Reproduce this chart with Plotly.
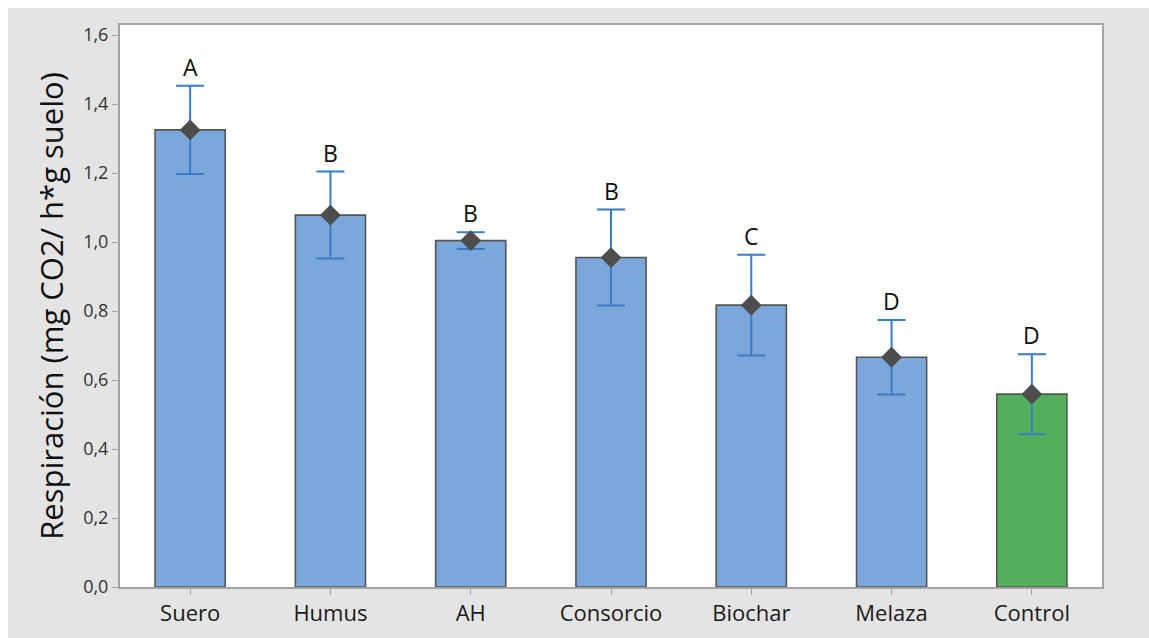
import plotly.graph_objects as go

# Soil respiration by treatment (mean ± error) with grouping letters
categories = ["Suero", "Humus", "AH", "Consorcio", "Biochar", "Melaza", "Control"]
means = [1.325, 1.078, 1.004, 0.955, 0.817, 0.666, 0.559]
errors = [0.128, 0.126, 0.024, 0.139, 0.146, 0.108, 0.116]
letters = ["A", "B", "B", "B", "C", "D", "D"]
bar_colors = ["#7ba7da"] * 6 + ["#52b05a"]
y_ticks = [0.0, 0.2, 0.4, 0.6, 0.8, 1.0, 1.2, 1.4, 1.6]
y_tick_text = [f"{v:.1f}".replace(".", ",") for v in y_ticks]

W, H = 1149, 638
L, R, T, B = 120, 47, 25, 51
pw, ph = W - L - R, H - T - B

fig = go.Figure()

fig.add_trace(go.Bar(
    x=categories, y=means, width=0.5,
    marker=dict(color=bar_colors, line=dict(color="#555555", width=1.6)),
    error_y=dict(type="data", array=errors, visible=True,
                 color="#3a7cc6", thickness=2, width=14),
    hoverinfo="skip", showlegend=False,
))

fig.add_trace(go.Scatter(
    x=categories, y=means, mode="markers",
    marker=dict(symbol="diamond", size=16, color="#4d4d4d",
                line=dict(width=0)),
    hoverinfo="skip", showlegend=False,
))

for c, m, e, lab in zip(categories, means, errors, letters):
    fig.add_annotation(
        x=c, y=m + e, text=lab, showarrow=False,
        yanchor="bottom", yshift=1,
        font=dict(family="Open Sans, Noto Sans, sans-serif", size=23, color="#111111"),
    )

# white strips along the left and top page edges
fig.add_shape(type="rect", xref="paper", yref="paper",
              x0=-L / pw, x1=(8 - L) / pw, y0=-B / ph - 0.01, y1=(T + B + ph) / ph,
              fillcolor="white", line=dict(width=0), layer="below")
fig.add_shape(type="rect", xref="paper", yref="paper",
              x0=-L / pw, x1=1 + R / pw + 0.01, y0=(ph + T - 8) / ph, y1=(ph + T) / ph + 0.01,
              fillcolor="white", line=dict(width=0), layer="below")

fig.update_layout(
    width=W, height=H,
    margin=dict(l=L, r=R, t=T, b=B),
    paper_bgcolor="#e4e4e4",
    plot_bgcolor="white",
    bargap=0.5,
    font=dict(family="Open Sans, Noto Sans, sans-serif", color="#222222"),
)

fig.update_xaxes(
    range=[-0.5, 6.5],
    showline=True, linecolor="#a3a3a3", linewidth=2, mirror=True,
    ticks="outside", ticklen=6, tickcolor="#a3a3a3", tickwidth=1,
    showgrid=False, zeroline=False,
    tickfont=dict(size=22, color="#1a1a1a"),
)

fig.update_yaxes(
    range=[0, 1.629],
    tickvals=y_ticks, ticktext=y_tick_text,
    showline=True, linecolor="#a3a3a3", linewidth=2, mirror=True,
    ticks="outside", ticklen=6, tickcolor="#a3a3a3", tickwidth=1,
    showgrid=False, zeroline=False,
    tickfont=dict(size=18, color="#333333"),
    title=dict(text="Respiración (mg CO2/ h*g suelo)",
               font=dict(size=31, color="#111111"), standoff=10),
)

fig.write_html("out.html")
